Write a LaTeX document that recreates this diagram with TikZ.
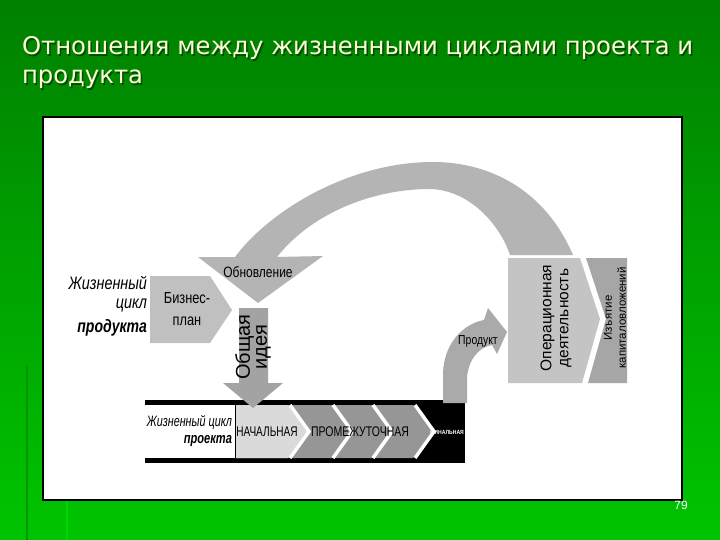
\documentclass[tikz,border=0pt]{standalone}
\usepackage{fontspec}
\setmainfont{Liberation Sans}
\newfontfamily\titlefont{DejaVu Sans}
\usepackage{graphicx}
\newcommand{\nar}[2][0.8]{\scalebox{#1}[1]{#2}}
\definecolor{bgtop}{RGB}{0,128,0}
\definecolor{bgbot}{RGB}{0,196,0}
\definecolor{titlecol}{RGB}{255,255,215}
\definecolor{arrowgrey}{RGB}{180,180,180}
\definecolor{bizgrey}{RGB}{192,192,192}
\definecolor{ideagrey}{RGB}{163,163,163}
\definecolor{prodgrey}{RGB}{170,170,170}
\definecolor{lightchev}{RGB}{218,218,218}
\definecolor{midchev}{RGB}{150,150,150}
\definecolor{opgrey}{RGB}{196,196,196}
\definecolor{exitgrey}{RGB}{166,166,166}
\tikzset{
  lbl/.style={inner sep=0pt, outer sep=0pt},
  titletxt/.style={lbl, anchor=base west, text=titlecol, font=\titlefont\fontsize{24.3}{28}\selectfont},
  titleshadow/.style={lbl, anchor=base west, text=black!70!green, font=\titlefont\fontsize{24.3}{28}\selectfont},
}
\begin{document}
\begin{tikzpicture}[x=1pt,y=-1pt]
\useasboundingbox (0,0) rectangle (720,540);
% background
\shade[top color=bgtop, bottom color=bgbot] (0,0) rectangle (720,540);
\draw[line width=1.5pt, color={rgb,255:red,0;green,150;blue,0}] (27,365) -- (27,540);
\draw[line width=1.5pt, color={rgb,255:red,0;green,215;blue,0}] (67,500) -- (67,540);
% title
\node[titleshadow] (t1s) at (23.5,56.5) {Отношения между жизненными циклами проекта и};
\node[titleshadow] (t2s) at (23.5,85.5) {продукта};
\node[titletxt] (t1) at (22,55) {Отношения между жизненными циклами проекта и};
\node[titletxt] (t2) at (22,84) {продукта};
% panel
\draw[line width=2pt, fill=white] (43,117) rectangle (682,500);
\node[lbl, text=white, font=\fontsize{12}{14}\selectfont] (pg) at (681,505) {79};

% big renewal arrow
\fill[arrowgrey] (573,255) .. controls (545,190) and (490,162) .. (433,162)
  .. controls (350,162) and (270,210) .. (235,257)
  -- (198,257) -- (258,303) -- (323,256) -- (277,257)
  .. controls (310,215) and (370,189) .. (430,189)
  .. controls (470,190) and (500,225) .. (510,255) -- cycle;
\node[lbl, font=\fontsize{15}{17}\selectfont] (renew) at (258,272) {\nar{Обновление}};

% product life cycle label
\node[lbl, anchor=east, font=\itshape\fontsize{18}{20}\selectfont] (plc1) at (147,283) {\nar[0.8]{Жизненный}};
\node[lbl, anchor=east, font=\itshape\fontsize{18}{20}\selectfont] (plc2) at (147,306) {\nar[0.8]{цикл}};
\node[lbl, anchor=east, font=\bfseries\itshape\fontsize{18}{20}\selectfont] (plc3) at (147,328) {\nar[0.78]{продукта}};

% business plan
\fill[bizgrey] (150,276) -- (210,276) -- (232,310) -- (210,343) -- (150,343) -- cycle;
\node[lbl, font=\fontsize{16}{18}\selectfont] (bp1) at (187,298) {\nar[0.8]{Бизнес-}};
\node[lbl, font=\fontsize{16}{18}\selectfont] (bp2) at (187,321) {\nar[0.8]{план}};

% project life cycle bar
\fill[black] (145,400) rectangle (465,463);
\fill[white] (145,405) rectangle (235,458);
\fill[midchev] (235,405) -- (413,405) -- (432,431.5) -- (413,458) -- (235,458) -- cycle;
\fill[lightchev] (235,405) -- (288,405) -- (307,431.5) -- (288,458) -- (235,458) -- cycle;
\foreach \sx in {290,333,373,415}{
  \draw[white, line width=3.5pt] (\sx,405) -- (\sx+19,431.5) -- (\sx,458);
}
\draw[black, line width=0.8pt] (235,405) -- (235,458);
\node[lbl, anchor=east, font=\itshape\fontsize{15}{17}\selectfont] (pj1) at (232,422) {\nar[0.72]{Жизненный цикл}};
\node[lbl, anchor=east, font=\bfseries\itshape\fontsize{15}{17}\selectfont] (pj2) at (232,441) {\nar[0.74]{проекта}};
\node[lbl, font=\fontsize{14}{16}\selectfont] (ph1) at (267,432) {\nar[0.72]{НАЧАЛЬНАЯ}};
\node[lbl, font=\fontsize{14}{16}\selectfont] (ph2) at (360,432) {\nar[0.75]{ПРОМЕЖУТОЧНАЯ}};
\node[lbl, text=white, font=\bfseries\fontsize{6}{8}\selectfont] (ph3) at (447,432) {\nar[0.85]{ФИНАЛЬНАЯ}};

% general idea arrow
\fill[ideagrey] (239,308) -- (268,308) -- (268,383) -- (283,383) -- (253,408) -- (223,383) -- (239,383) -- cycle;
\node[lbl, rotate=90, align=center, font=\fontsize{20}{17}\selectfont] (idea) at (253,347) {Общая\\идея};

% product arrow
\fill[prodgrey] (443,403) -- (443,375) .. controls (443,345) and (462,324) .. (484,320)
  -- (488,308) -- (507,332) -- (497,354) -- (492,345)
  .. controls (478,347) and (467,362) .. (467,380) -- (467,403) -- cycle;
\node[lbl, font=\fontsize{13}{15}\selectfont] (prod) at (478,341) {\nar[0.8]{Продукт}};

% operational activity
\fill[opgrey] (508,258) -- (580,258) -- (600,319) -- (582,383) -- (508,383) -- cycle;
\fill[exitgrey] (586,258) -- (627,258) -- (627,383) -- (588,383) -- (606,319) -- cycle;
\node[lbl, rotate=90, align=center, font=\fontsize{15.5}{17}\selectfont] (oper) at (556,318) {Операционная\\деятельность};
\node[lbl, rotate=90, align=center, font=\fontsize{11.5}{14}\selectfont] (exit) at (615,318) {Изъятие\\капиталовложений};
\end{tikzpicture}
\end{document}
